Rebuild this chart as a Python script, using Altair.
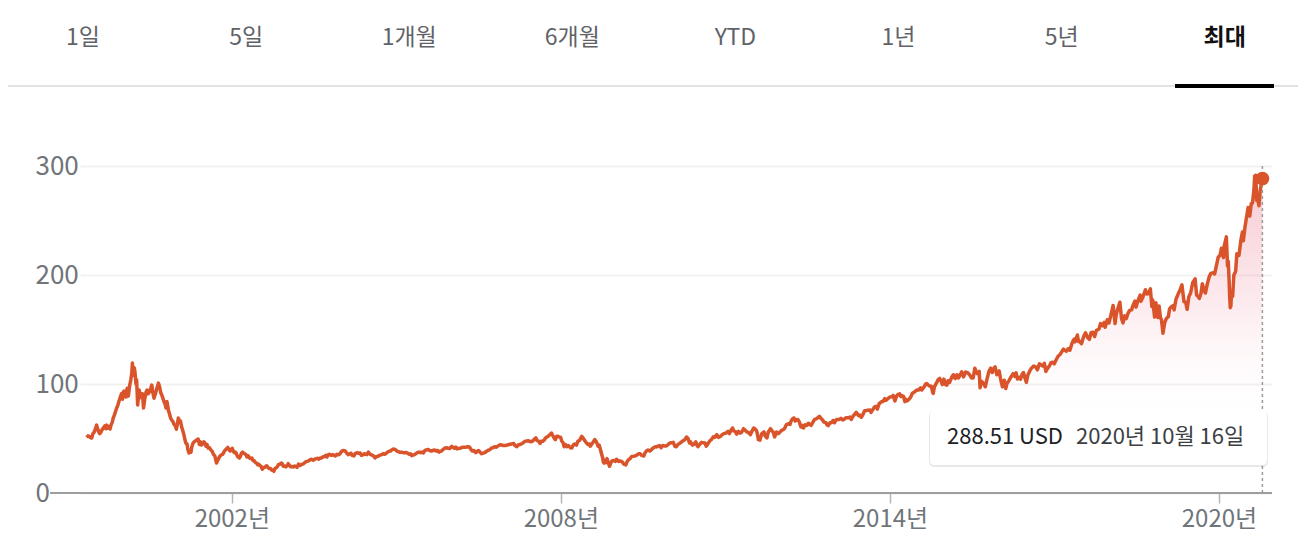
import altair as alt
import pandas as pd

# ---------------- data ----------------
TABS = ["1일", "5일", "1개월", "6개월", "YTD", "1년", "5년", "최대"]
SELECTED_TAB = "최대"

P1999 = [("05-10", 53.2), ("05-20", 51.8), ("05-27", 52.0), ("06-04", 50.8), ("06-13", 50.4),
         ("06-21", 54.5), ("06-28", 55.5), ("07-07", 58.5), ("07-16", 62.3), ("07-22", 59.0),
         ("07-27", 57.0), ("08-04", 54.5), ("08-10", 55.0), ("08-19", 57.5), ("08-29", 59.6),
         ("09-08", 61.5), ("09-16", 59.0), ("09-21", 62.3), ("09-28", 59.5), ("10-06", 61.0),
         ("10-13", 58.7), ("10-20", 62.5), ("10-28", 65.0), ("11-03", 68.7), ("11-12", 72.0),
         ("11-19", 75.0), ("11-26", 77.9), ("12-03", 80.0), ("12-10", 83.5), ("12-18", 87.0),
         ("12-28", 91.0)]
P2000 = [("01-04", 86.0), ("01-09", 92.6), ("01-14", 93.5), ("01-21", 93.0), ("01-28", 88.0),
         ("02-04", 96.2), ("02-12", 89.0), ("02-20", 98.0), ("02-28", 103.6), ("03-06", 110.0),
         ("03-10", 119.2), ("03-15", 108.0), ("03-22", 115.0), ("03-27", 110.9), ("04-03", 100.0),
         ("04-07", 104.0), ("04-14", 80.7), ("04-20", 89.0), ("04-24", 94.4), ("05-02", 90.0),
         ("05-11", 87.0), ("05-16", 91.0), ("05-23", 77.9), ("05-31", 86.0), ("06-09", 92.6),
         ("06-16", 94.5), ("06-23", 91.0), ("07-01", 92.6), ("07-10", 96.0), ("07-17", 99.0),
         ("07-24", 92.0), ("08-01", 87.0), ("08-10", 91.0), ("08-18", 95.0), ("08-30", 100.8),
         ("09-07", 97.5), ("09-15", 92.0), ("09-22", 89.8), ("09-29", 87.0), ("10-06", 84.0),
         ("10-13", 82.0), ("10-20", 78.0), ("10-26", 84.0), ("11-05", 76.0), ("11-13", 72.0),
         ("11-20", 68.5), ("11-27", 67.0), ("12-05", 65.5), ("12-12", 63.0), ("12-19", 62.3),
         ("12-28", 58.5)]
P2001 = [("01-04", 64.0), ("01-10", 68.7), ("01-18", 66.0), ("01-24", 66.0), ("02-01", 60.5),
         ("02-09", 57.0), ("02-16", 53.5), ("02-23", 48.6), ("03-02", 45.5), ("03-09", 45.0),
         ("03-14", 40.0), ("03-22", 36.7), ("03-29", 38.5), ("04-04", 37.5), ("04-09", 42.0),
         ("04-18", 45.8), ("04-26", 47.0), ("05-04", 48.0), ("05-12", 48.6), ("05-22", 49.5),
         ("05-30", 44.5), ("06-06", 47.0), ("06-14", 44.0), ("06-22", 45.5), ("06-29", 47.0),
         ("07-06", 45.8), ("07-13", 43.0), ("07-20", 44.5), ("07-28", 41.2), ("08-06", 41.5),
         ("08-14", 39.5), ("08-22", 38.5), ("09-02", 35.2), ("09-10", 34.0), ("09-21", 27.5),
         ("09-28", 29.8), ("10-05", 31.5), ("10-12", 33.5), ("10-19", 34.5), ("10-26", 35.2),
         ("11-02", 35.5), ("11-09", 37.5), ("11-16", 39.0), ("11-26", 40.5), ("12-05", 41.8),
         ("12-12", 40.0), ("12-20", 38.5), ("12-28", 39.5)]
P2002 = [("01-04", 41.0), ("01-11", 38.2), ("01-18", 37.0), ("01-25", 37.5), ("02-01", 36.0),
         ("02-08", 33.5), ("02-20", 32.1), ("02-27", 33.5), ("03-06", 36.5), ("03-14", 37.5),
         ("03-21", 36.5), ("03-28", 36.0), ("04-05", 35.2), ("04-12", 33.0), ("04-21", 34.0),
         ("04-30", 32.0), ("05-08", 31.5), ("05-15", 32.0), ("05-23", 29.5), ("05-31", 29.5),
         ("06-07", 28.0), ("06-14", 27.5), ("06-21", 26.0), ("06-28", 26.5), ("07-08", 25.0),
         ("07-15", 24.5), ("07-23", 21.8), ("07-31", 23.5), ("08-08", 23.5), ("08-16", 24.5),
         ("08-22", 25.0), ("08-30", 23.5), ("09-06", 22.5), ("09-16", 22.5), ("09-24", 21.0),
         ("10-01", 20.8), ("10-08", 19.9), ("10-15", 22.5), ("10-22", 23.0), ("10-31", 24.0),
         ("11-07", 26.0), ("11-15", 26.3), ("11-26", 27.5), ("12-02", 27.0), ("12-10", 24.5),
         ("12-18", 24.8), ("12-27", 24.0)]
P2003 = [("01-06", 25.5), ("01-12", 26.9), ("01-21", 25.0), ("01-28", 24.0), ("02-05", 24.3),
         ("02-14", 23.9), ("02-24", 24.8), ("03-04", 24.2), ("03-11", 23.5), ("03-21", 26.5),
         ("03-31", 25.2), ("04-08", 26.0), ("04-17", 26.5), ("04-25", 27.0), ("05-05", 28.3),
         ("05-16", 29.0), ("05-28", 29.5), ("06-06", 30.5), ("06-17", 31.0), ("06-25", 30.0),
         ("07-03", 30.5), ("07-09", 31.2), ("07-18", 31.5), ("07-25", 31.8), ("08-04", 31.0),
         ("08-12", 32.0), ("08-22", 32.1), ("08-29", 33.0), ("09-10", 33.5), ("09-18", 34.5),
         ("09-26", 33.0), ("10-05", 35.2), ("10-15", 35.5), ("10-24", 34.5), ("11-06", 35.2),
         ("11-14", 34.5), ("11-21", 34.0), ("12-02", 35.5), ("12-12", 35.0), ("12-22", 36.0)]
P2004 = [("01-02", 38.2), ("01-12", 39.0), ("01-26", 38.5), ("02-06", 36.5), ("02-16", 35.2),
         ("02-25", 36.0), ("03-05", 36.5), ("03-12", 34.5), ("03-24", 34.0), ("04-01", 36.1),
         ("04-13", 37.0), ("04-21", 36.5), ("05-05", 36.7), ("05-12", 34.5), ("05-20", 34.8),
         ("06-01", 36.0), ("06-18", 35.2), ("06-28", 37.5), ("07-09", 35.5), ("07-20", 35.0),
         ("08-02", 34.0), ("08-12", 32.1), ("08-20", 33.5), ("09-01", 33.8), ("09-10", 34.5),
         ("09-24", 35.2), ("10-05", 36.0), ("10-15", 35.5), ("10-26", 36.5), ("11-10", 38.2),
         ("11-22", 38.5), ("12-01", 39.5), ("12-12", 40.4), ("12-23", 40.0)]
P2005 = [("01-05", 38.5), ("01-14", 38.0), ("01-25", 37.3), ("02-04", 37.5), ("02-15", 37.0),
         ("02-25", 37.0), ("03-08", 37.2), ("03-18", 36.5), ("03-28", 35.5), ("04-06", 36.0),
         ("04-13", 34.3), ("04-21", 34.8), ("04-29", 35.0), ("05-10", 36.0), ("05-20", 37.0),
         ("05-31", 37.5), ("06-10", 37.0), ("06-20", 37.5), ("06-30", 36.8), ("07-10", 39.1),
         ("07-20", 39.5), ("08-01", 40.0), ("08-10", 39.0), ("08-22", 38.5), ("09-01", 39.0),
         ("09-12", 39.5), ("09-22", 38.5), ("10-03", 39.0), ("10-12", 37.5), ("10-19", 38.2),
         ("10-28", 38.5), ("11-08", 40.0), ("11-18", 41.0), ("12-01", 41.5), ("12-12", 41.0),
         ("12-22", 40.8)]
P2006 = [("01-04", 42.8), ("01-13", 42.0), ("01-23", 41.0), ("02-01", 42.0), ("02-10", 40.5),
         ("02-21", 41.0), ("03-03", 41.0), ("03-15", 42.0), ("03-24", 42.0), ("04-03", 42.0),
         ("04-12", 42.2), ("04-21", 42.5), ("05-04", 42.0), ("05-12", 40.0), ("05-22", 38.5),
         ("06-02", 39.0), ("06-13", 37.0), ("06-22", 38.0), ("07-03", 39.0), ("07-12", 37.5),
         ("07-22", 36.1), ("08-01", 36.5), ("08-11", 37.0), ("08-22", 38.0), ("09-01", 39.0),
         ("09-12", 39.5), ("09-27", 41.3), ("10-06", 41.5), ("10-17", 42.5), ("10-27", 42.0),
         ("11-07", 43.0), ("11-22", 44.3), ("12-04", 44.0), ("12-14", 43.5), ("12-27", 43.5)]
P2007 = [("01-09", 44.0), ("01-23", 44.5), ("02-06", 45.0), ("02-22", 45.5), ("03-01", 43.5),
         ("03-14", 42.5), ("03-22", 44.0), ("04-05", 44.5), ("04-18", 45.5), ("04-30", 46.5),
         ("05-07", 47.4), ("05-18", 47.8), ("05-31", 48.0), ("06-12", 47.0), ("06-26", 47.5),
         ("07-06", 49.0), ("07-19", 50.5), ("07-27", 48.0), ("08-06", 47.5), ("08-16", 45.5),
         ("08-23", 47.5), ("09-02", 47.4), ("09-12", 48.5), ("09-21", 50.5), ("10-03", 51.5),
         ("10-12", 52.5), ("10-31", 55.0), ("11-07", 53.0), ("11-15", 51.0), ("11-26", 49.0),
         ("12-04", 52.0), ("12-12", 52.0), ("12-21", 51.5), ("12-31", 51.0)]
P2008 = [("01-08", 47.5), ("01-17", 45.9), ("01-23", 42.5), ("02-01", 44.5), ("02-11", 42.5),
         ("02-21", 43.5), ("03-05", 41.5), ("03-14", 41.3), ("03-24", 44.0), ("04-03", 45.0),
         ("04-14", 44.0), ("04-24", 47.5), ("05-06", 48.5), ("05-19", 52.0), ("05-28", 50.5),
         ("06-06", 48.5), ("06-20", 45.9), ("06-30", 44.5), ("07-10", 45.0), ("07-15", 43.0),
         ("07-28", 45.5), ("08-07", 47.5), ("08-14", 49.0), ("08-25", 47.0), ("09-05", 43.0),
         ("09-12", 44.0), ("09-18", 41.3), ("09-29", 35.5), ("10-06", 32.0), ("10-10", 28.5),
         ("10-15", 27.5), ("10-21", 30.0), ("10-27", 27.8), ("11-04", 31.5), ("11-13", 27.5),
         ("11-20", 24.5), ("11-28", 27.5), ("12-08", 29.5), ("12-16", 29.8), ("12-29", 29.0)]
P2009 = [("01-06", 31.0), ("01-19", 29.0), ("01-27", 29.5), ("02-05", 29.0), ("02-13", 28.5),
         ("02-23", 26.5), ("03-09", 25.8), ("03-18", 29.0), ("03-27", 30.5), ("04-06", 31.5),
         ("04-17", 33.5), ("04-27", 33.6), ("05-08", 34.0), ("05-18", 34.5), ("06-01", 36.0),
         ("06-12", 36.0), ("06-23", 34.5), ("07-07", 34.0), ("07-14", 36.7), ("07-24", 38.5),
         ("08-04", 39.5), ("08-17", 38.5), ("08-28", 40.0), ("09-09", 41.5), ("09-22", 42.5),
         ("09-30", 42.3), ("10-09", 43.0), ("10-20", 43.5), ("10-30", 41.5), ("11-10", 43.5),
         ("11-27", 43.0), ("12-08", 43.5), ("12-18", 44.8), ("12-28", 45.9)]
P2010 = [("01-08", 46.0), ("01-19", 46.5), ("01-30", 42.8), ("02-08", 42.5), ("02-19", 44.5),
         ("03-02", 45.5), ("03-16", 47.0), ("03-26", 48.0), ("04-06", 49.0), ("04-17", 51.4),
         ("04-27", 50.0), ("05-07", 46.0), ("05-14", 47.0), ("05-25", 44.0), ("06-04", 44.5),
         ("06-18", 47.0), ("06-24", 44.3), ("07-02", 42.5), ("07-13", 44.5), ("07-26", 46.5),
         ("08-06", 46.0), ("08-18", 45.9), ("08-26", 43.0), ("09-08", 45.5), ("09-20", 48.0),
         ("09-30", 49.0), ("10-12", 51.5), ("10-22", 51.0), ("11-05", 53.5), ("11-16", 51.0),
         ("11-30", 52.0), ("12-10", 53.5), ("12-22", 54.5)]
P2011 = [("01-05", 55.0), ("01-18", 56.5), ("01-28", 54.5), ("02-07", 57.5), ("02-18", 59.6),
         ("02-24", 57.0), ("03-08", 56.5), ("03-16", 54.0), ("03-29", 56.5), ("04-08", 55.0),
         ("04-18", 55.5), ("05-02", 59.0), ("05-13", 57.5), ("05-24", 56.0), ("06-03", 55.5),
         ("06-16", 53.5), ("06-30", 57.5), ("07-08", 59.6), ("07-19", 58.5), ("07-28", 57.0),
         ("08-05", 52.0), ("08-08", 49.0), ("08-19", 48.5), ("08-31", 54.5), ("09-15", 56.0),
         ("09-22", 52.5), ("10-04", 50.5), ("10-14", 56.0), ("10-28", 59.0), ("11-08", 57.0),
         ("11-16", 55.5), ("11-25", 51.5), ("12-07", 56.0), ("12-19", 54.5), ("12-30", 55.8)]
P2012 = [("01-10", 57.5), ("01-22", 58.1), ("01-31", 59.5), ("02-10", 62.5), ("02-24", 63.5),
         ("03-06", 63.0), ("03-15", 66.5), ("03-26", 68.5), ("04-02", 68.8), ("04-10", 66.0),
         ("04-18", 67.0), ("04-27", 67.5), ("05-08", 65.0), ("05-18", 60.5), ("05-29", 62.0),
         ("06-04", 59.6), ("06-15", 62.5), ("06-26", 62.0), ("07-06", 64.0), ("07-16", 63.0),
         ("07-25", 62.0), ("08-06", 65.0), ("08-17", 67.5), ("08-28", 68.0), ("09-07", 69.0),
         ("09-18", 70.3), ("09-28", 68.5), ("10-09", 67.0), ("10-19", 65.0), ("11-01", 64.5),
         ("11-08", 62.5), ("11-16", 61.8), ("11-28", 64.5), ("12-07", 64.5), ("12-18", 66.5),
         ("12-28", 64.5)]
P2013 = [("01-07", 67.0), ("01-17", 67.5), ("01-29", 67.5), ("02-08", 68.5), ("02-20", 67.0),
         ("03-05", 68.0), ("03-15", 69.0), ("03-27", 69.0), ("04-09", 69.7), ("04-18", 67.5),
         ("04-30", 70.5), ("05-10", 72.0), ("05-21", 74.0), ("06-05", 71.0), ("06-14", 71.6),
         ("06-24", 69.5), ("07-05", 72.0), ("07-16", 75.5), ("07-26", 75.5), ("08-06", 76.0),
         ("08-22", 76.1), ("08-28", 74.0), ("09-09", 76.5), ("09-20", 79.0), ("10-01", 79.5),
         ("10-09", 77.0), ("10-21", 82.0), ("11-06", 83.8), ("11-15", 84.0), ("11-27", 86.5),
         ("12-05", 85.0), ("12-18", 86.5), ("12-31", 88.0)]
P2014 = [("01-12", 88.3), ("01-22", 89.5), ("02-03", 84.5), ("02-14", 89.0), ("02-25", 90.5),
         ("03-06", 91.0), ("03-14", 88.5), ("03-21", 89.5), ("04-02", 88.5), ("04-10", 83.8),
         ("04-17", 86.0), ("04-25", 84.5), ("05-08", 86.0), ("05-19", 88.0), ("05-30", 91.5),
         ("06-11", 92.5), ("06-28", 94.4), ("07-10", 94.5), ("07-23", 96.5), ("08-01", 94.5),
         ("08-12", 96.5), ("08-27", 100.0), ("09-02", 100.5), ("09-13", 99.0), ("09-25", 98.0),
         ("10-03", 98.0), ("10-13", 92.0), ("10-16", 91.4), ("10-24", 97.5), ("11-05", 100.5),
         ("11-18", 104.0), ("11-28", 105.1), ("12-09", 102.0), ("12-16", 99.5), ("12-26", 104.5)]
P2015 = [("01-06", 99.5), ("01-15", 99.0), ("01-23", 103.0), ("02-02", 101.5), ("02-17", 106.5),
         ("02-27", 108.5), ("03-11", 105.0), ("03-23", 108.5), ("04-02", 105.5), ("04-10", 107.5),
         ("04-24", 111.2), ("05-06", 106.5), ("05-20", 111.0), ("06-01", 110.5), ("06-15", 108.5),
         ("06-29", 105.5), ("07-09", 105.5), ("07-20", 114.5), ("07-28", 111.5), ("08-07", 109.5),
         ("08-18", 111.5), ("08-24", 96.5), ("08-31", 102.5), ("09-10", 101.5), ("09-28", 97.5),
         ("10-08", 104.0), ("10-22", 111.5), ("11-03", 114.5), ("11-13", 110.5), ("11-25", 114.5),
         ("12-02", 115.7), ("12-14", 108.5), ("12-29", 112.0)]
P2016 = [("01-07", 105.0), ("01-20", 97.5), ("02-01", 103.5), ("02-11", 95.9), ("02-19", 100.5),
         ("03-01", 102.5), ("03-17", 106.5), ("03-31", 109.5), ("04-11", 107.0), ("04-20", 110.2),
         ("04-29", 104.5), ("05-10", 106.0), ("05-19", 104.5), ("06-01", 109.5), ("06-08", 110.5),
         ("06-16", 106.5), ("06-27", 101.5), ("07-08", 108.5), ("07-20", 112.0), ("07-31", 114.5),
         ("08-15", 116.5), ("08-30", 115.5), ("09-09", 113.0), ("09-22", 118.5), ("10-04", 117.5),
         ("10-14", 116.5), ("10-25", 119.0), ("11-04", 111.5), ("11-14", 114.0), ("11-29", 117.0),
         ("12-08", 119.5), ("12-20", 120.0), ("12-30", 118.5)]
P2017 = [("01-11", 122.0), ("01-25", 125.5), ("02-06", 127.0), ("02-22", 130.5), ("03-01", 132.0),
         ("03-21", 130.0), ("04-03", 132.5), ("04-13", 131.0), ("04-26", 137.0), ("05-08", 140.5),
         ("05-16", 141.5), ("05-17", 138.5), ("06-02", 145.0), ("06-09", 139.0), ("06-14", 139.5),
         ("06-29", 137.0), ("07-14", 143.5), ("07-26", 147.0), ("08-10", 142.5), ("08-21", 141.0),
         ("09-01", 147.0), ("09-13", 147.5), ("09-25", 143.5), ("10-06", 149.0), ("10-24", 150.5),
         ("11-03", 155.5), ("11-15", 153.5), ("11-28", 156.5), ("12-04", 152.0), ("12-18", 159.0),
         ("12-29", 156.0)]
P2018 = [("01-10", 162.5), ("01-26", 172.0), ("02-08", 155.5), ("02-16", 164.0), ("02-26", 169.0),
         ("03-12", 175.0), ("03-23", 160.0), ("04-02", 156.0), ("04-13", 162.5), ("04-24", 160.0),
         ("05-04", 164.5), ("05-16", 167.5), ("05-29", 168.0), ("06-07", 172.0), ("06-20", 176.0),
         ("06-28", 170.5), ("07-10", 176.5), ("07-25", 181.5), ("07-30", 176.0), ("08-10", 179.0),
         ("08-29", 186.5), ("09-07", 182.5), ("09-18", 183.0), ("10-01", 187.3), ("10-11", 171.0),
         ("10-17", 177.0), ("10-29", 161.5), ("11-07", 174.5), ("11-20", 161.0), ("11-28", 171.5),
         ("12-07", 161.0), ("12-14", 159.0), ("12-24", 146.5)]
P2019 = [("01-04", 156.0), ("01-15", 160.0), ("01-29", 162.0), ("02-06", 169.0), ("02-15", 170.5),
         ("03-01", 172.0), ("03-08", 168.0), ("03-21", 178.0), ("04-04", 182.5), ("04-16", 186.0),
         ("04-29", 191.0), ("05-13", 175.5), ("05-24", 175.0), ("06-03", 168.5), ("06-14", 180.0),
         ("06-26", 183.5), ("07-10", 193.0), ("07-26", 196.5), ("08-05", 181.5), ("08-14", 180.5),
         ("08-23", 178.5), ("09-03", 183.0), ("09-12", 192.0), ("09-24", 185.5), ("10-03", 183.5),
         ("10-14", 191.0), ("10-28", 198.5), ("11-08", 201.5), ("11-20", 202.0), ("12-03", 201.0),
         ("12-13", 207.5), ("12-27", 216.5)]
P2020 = [("01-08", 218.0), ("01-17", 224.5), ("01-31", 216.0), ("02-04", 226.0), ("02-19", 235.0),
         ("02-27", 208.0), ("03-03", 212.5), ("03-09", 193.0), ("03-12", 180.5), ("03-16", 170.0),
         ("03-20", 171.5), ("03-24", 182.0), ("04-01", 180.5), ("04-09", 200.0), ("04-21", 203.5),
         ("04-29", 219.5), ("05-13", 218.0), ("05-26", 232.0), ("06-05", 239.5), ("06-11", 231.5),
         ("06-23", 245.0), ("07-02", 252.5), ("07-13", 262.0), ("07-24", 254.0), ("08-03", 265.5),
         ("08-11", 266.0), ("08-20", 277.0), ("08-26", 290.9), ("09-02", 291.5), ("09-08", 268.5),
         ("09-17", 268.0), ("09-23", 263.5), ("10-01", 277.5), ("10-09", 283.3), ("10-13", 290.0),
         ("10-16", 288.51)]

YEARS = {1999: P1999, 2000: P2000, 2001: P2001, 2002: P2002, 2003: P2003, 2004: P2004,
         2005: P2005, 2006: P2006, 2007: P2007, 2008: P2008, 2009: P2009, 2010: P2010,
         2011: P2011, 2012: P2012, 2013: P2013, 2014: P2014, 2015: P2015, 2016: P2016,
         2017: P2017, 2018: P2018, 2019: P2019, 2020: P2020}

Y_TICKS = [0, 100, 200, 300]
X_TICK_YEARS = [2002, 2008, 2014, 2020]
TIP_PRICE = "288.51 USD"
TIP_DATE = "2020년 10월 16일"

# ---------------- layout / style ----------------
W, H = 1192, 327
LINE = "#d9542b"
KR = "Noto Sans CJK KR"
GRAY_TXT = "#70757a"

rows = [(f"{yr}-{md}", v) for yr, pts in YEARS.items() for md, v in pts]
df = pd.DataFrame(rows, columns=["date", "price"])
last = df.tail(1)
one = pd.DataFrame({"k": [0]})
tip = pd.DataFrame({"p": [TIP_PRICE], "d": [TIP_DATE]})

x_scale = alt.Scale(domain=[alt.DateTime(year=1999, month=3, date=27),
                            alt.DateTime(year=2020, month=12, date=19)])
y_scale = alt.Scale(domain=[0, 300], nice=False)

x_enc = alt.X(
    "date:T", scale=x_scale,
    axis=alt.Axis(
        values=[alt.DateTime(year=yr, month=1, date=1) for yr in X_TICK_YEARS],
        labelExpr="timeFormat(datum.value, '%Y') + '년'",
        title=None, domain=False, grid=False, ticks=True, tickSize=10,
        tickColor="#b5b5b5", tickWidth=1.5, labelFont=KR, labelFontSize=24,
        labelColor=GRAY_TXT, labelPadding=23, labelBaseline="alphabetic",
        labelAlign="center", labelFlush=False,
    ),
)
y_enc = alt.Y(
    "price:Q", scale=y_scale,
    axis=alt.Axis(
        values=Y_TICKS, title=None, domain=False, ticks=False, tickSize=0,
        grid=True, gridColor="#f1f1f1", gridWidth=2, labelAlign="left",
        labelPadding=45, labelFont=KR, labelFontSize=26, labelColor=GRAY_TXT,
        labelFlush=False,
    ),
)

area = alt.Chart(df).mark_area(
    color=alt.Gradient(
        gradient="linear",
        stops=[
            alt.GradientStop(color="rgba(235,125,145,0.42)", offset=0),
            alt.GradientStop(color="rgba(240,150,168,0.18)", offset=0.42),
            alt.GradientStop(color="rgba(255,255,255,0)", offset=0.8),
        ],
        x1=0, x2=0, y1=0, y2=1,
    )
).encode(x=x_enc, y=y_enc)

line = alt.Chart(df).mark_line(color=LINE, strokeWidth=3.5, strokeJoin="round").encode(
    x="date:T", y="price:Q")

baseline = alt.Chart(one).mark_rule(color="#9e9e9e", strokeWidth=2).encode(
    x=alt.value(-30), x2=alt.value(W), y=alt.value(H))

vline = alt.Chart(last).mark_rule(color="#9a9a9a", strokeWidth=1.5, strokeDash=[3, 3]).encode(
    x="date:T", y=alt.value(0), y2=alt.value(H))

dot = alt.Chart(last).mark_circle(size=190, color=LINE, opacity=1).encode(
    x="date:T", y="price:Q")

tip_shadow = alt.Chart(one).mark_rect(color="#000000", opacity=0.09, cornerRadius=5).encode(
    x=alt.value(849), x2=alt.value(1188), y=alt.value(245), y2=alt.value(301))
tip_box = alt.Chart(one).mark_rect(color="#ffffff", cornerRadius=4).encode(
    x=alt.value(850), x2=alt.value(1187), y=alt.value(244.5), y2=alt.value(299))
tip_p = alt.Chart(tip).mark_text(align="left", baseline="middle", font=KR, fontSize=22,
                                  color="#202124").encode(
    x=alt.value(867), y=alt.value(271), text="p:N")
tip_d = alt.Chart(tip).mark_text(align="left", baseline="middle", font=KR, fontSize=22,
                                  color="#3c4043").encode(
    x=alt.value(996), y=alt.value(271), text="d:N")

sep = alt.Chart(one).mark_rule(color="#e3e3e3", strokeWidth=2).encode(
    x=alt.value(-72), x2=alt.value(1218), y=alt.value(-80))
underline = alt.Chart(one).mark_rule(color="#000000", strokeWidth=4).encode(
    x=alt.value(1095), x2=alt.value(1194), y=alt.value(-80))

tab_layers = []
for i, t in enumerate(TABS):
    sel = t == SELECTED_TAB
    tab_layers.append(
        alt.Chart(pd.DataFrame({"tab": [t]})).mark_text(
            align="center", baseline="middle", font=KR, fontSize=23,
            fontWeight="bold" if sel else "normal",
            color="#111111" if sel else "#5f6368",
        ).encode(x=alt.value(3 + 163.1 * i), y=alt.value(-128.5), text="tab:N")
    )

chart = alt.layer(
    area, line, baseline, vline, dot, tip_shadow, tip_box, tip_p, tip_d,
    sep, underline, *tab_layers,
).properties(
    width=W, height=H,
    autosize=alt.AutoSizeParams(type="none"),
    padding={"left": 72, "top": 158, "right": 26, "bottom": 50},
    background="white",
).configure_view(strokeWidth=0)

chart.save("out.html", embed_options={"renderer": "svg", "actions": False})
